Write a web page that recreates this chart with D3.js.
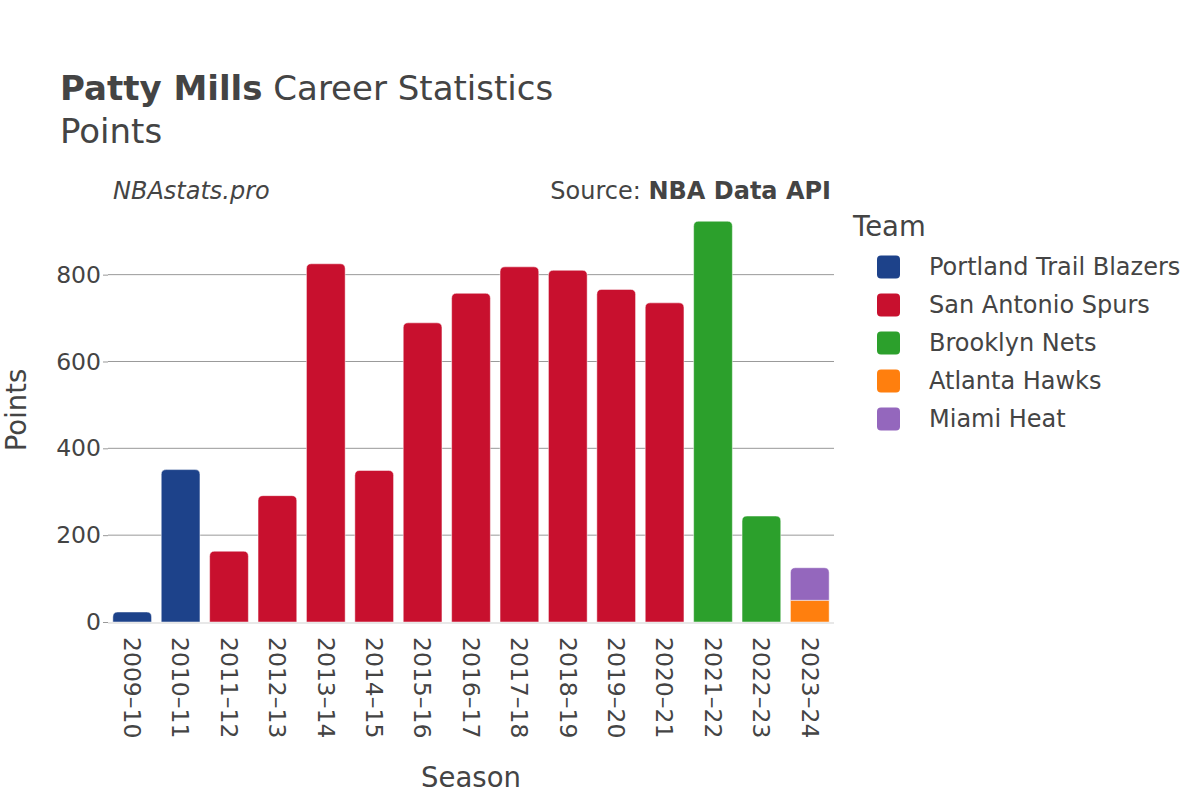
<!DOCTYPE html>
<html>
<head>
<meta charset="utf-8">
<script src="https://cdn.jsdelivr.net/npm/d3@7"></script>
<style>
  body { margin: 0; background: #fff; }
  text { font-family: 'DejaVu Sans', sans-serif; fill: #444; }
</style>
</head>
<body>
<div id="chart"></div>
<script>
var seasons = ['2009\u201310', '2010\u201311', '2011\u201312', '2012\u201313', '2013\u201314', '2014\u201315', '2015\u201316',
  '2016\u201317', '2017\u201318', '2018\u201319', '2019\u201320', '2020\u201321', '2021\u201322', '2022\u201323', '2023\u201324']
var teams = ['Portland Trail Blazers', 'San Antonio Spurs', 'Brooklyn Nets', 'Atlanta Hawks', 'Miami Heat']
var teamColors = ['#1d428a', '#c8102e', '#2ca02c', '#ff7f0e', '#9467bd']

var portland = [23, 351, 0, 0, 0, 0, 0, 0, 0, 0, 0, 0, 0, 0, 0]
var spurs = [0, 0, 163, 291, 825, 349, 689, 757, 818, 810, 766, 735, 0, 0, 0]
var nets = [0, 0, 0, 0, 0, 0, 0, 0, 0, 0, 0, 0, 923, 244, 0]
var hawks = [0, 0, 0, 0, 0, 0, 0, 0, 0, 0, 0, 0, 0, 0, 50]
var heat = [0, 0, 0, 0, 0, 0, 0, 0, 0, 0, 0, 0, 0, 0, 75]
var yTicks = [0, 200, 400, 600, 800]

var width = 1200
var height = 800
var margin = {left: 108, right: 366, top: 200, bottom: 178}
var chartWidth = width - margin.left - margin.right
var chartHeight = height - margin.top - margin.bottom

var series = [portland, spurs, nets, hawks, heat]
var rows = seasons.map(function (s, i) {
  var row = {season: s}
  teams.forEach(function (t, k) { row[t] = series[k][i] })
  return row
})
var stacked = d3.stack().keys(teams)(rows)
var colorMap = d3.scaleOrdinal().domain(teams).range(teamColors)

var maxValue = d3.max(rows, function (d) { return d3.sum(teams, function (t) { return d[t] }) })

var xScale = d3.scaleBand()
  .domain(seasons)
  .range([0, chartWidth])
  .paddingInner(0.2)
  .paddingOuter(0.1)
var yScale = d3.scaleLinear()
  .domain([0, maxValue * 1.053])
  .range([chartHeight, 0])

var svg = d3.select('#chart').append('svg')
  .attr('width', width)
  .attr('height', height)

// titles
var title = svg.append('text')
  .attr('x', 60)
  .attr('y', 100)
  .style('font-size', '34px')
title.append('tspan').style('font-weight', 'bold').text('Patty Mills')
title.append('tspan').text(' Career Statistics')
svg.append('text')
  .attr('x', 60)
  .attr('y', 143)
  .style('font-size', '34px')
  .text('Points')

svg.append('text')
  .attr('x', 113)
  .attr('y', 199)
  .style('font-size', '24px')
  .style('font-style', 'italic')
  .text('NBAstats.pro')
var source = svg.append('text')
  .attr('x', 831)
  .attr('y', 199)
  .attr('text-anchor', 'end')
  .style('font-size', '24px')
source.append('tspan').text('Source: ')
source.append('tspan').style('font-weight', 'bold').text('NBA Data API')

var chart = svg.append('g')
  .attr('transform', 'translate(' + margin.left + ',' + margin.top + ')')

// grid
chart.append('g')
  .selectAll('line')
  .data(yTicks.slice(1))
  .enter()
  .append('line')
  .attr('x1', 0)
  .attr('x2', chartWidth)
  .attr('y1', function (d) { return yScale(d) })
  .attr('y2', function (d) { return yScale(d) })
  .attr('stroke', '#999')
  .attr('stroke-width', 1)

var yAxis = d3.axisLeft(yScale).tickValues(yTicks).tickSize(5).tickPadding(2)
var yAxisElement = chart.append('g').call(yAxis)
yAxisElement.select('.domain').remove()
yAxisElement.selectAll('line').attr('stroke', '#999')
yAxisElement.selectAll('text').style('font-size', '23.5px').attr('fill', '#444')

function barPath (x, y0, y1, w, rounded) {
  var h = y0 - y1
  var r = rounded ? Math.min(5, h, w / 2) : 0
  return 'M' + x + ',' + y0 +
    'L' + x + ',' + (y1 + r) +
    'Q' + x + ',' + y1 + ' ' + (x + r) + ',' + y1 +
    'L' + (x + w - r) + ',' + y1 +
    'Q' + (x + w) + ',' + y1 + ' ' + (x + w) + ',' + (y1 + r) +
    'L' + (x + w) + ',' + y0 + 'Z'
}

function topKey (d) {
  var top = null
  teams.forEach(function (t) { if (d[t] > 0) top = t })
  return top
}

chart.append('g')
  .selectAll('g')
  .data(stacked)
  .enter()
  .append('g')
  .attr('fill', function (s) { return colorMap(s.key) })
  .each(function (s) {
    d3.select(this).selectAll('path')
      .data(s.filter(function (d) { return d[1] - d[0] > 0 }))
      .enter()
      .append('path')
      .attr('d', function (d) {
        return barPath(xScale(d.data.season), yScale(d[0]), yScale(d[1]), xScale.bandwidth(), topKey(d.data) === s.key)
      })
      .attr('stroke', '#fff')
      .attr('stroke-opacity', 0.6)
      .attr('stroke-width', 0.8)
  })

// zero line
chart.append('line')
  .attr('x1', 0)
  .attr('x2', chartWidth)
  .attr('y1', yScale(0) + 1)
  .attr('y2', yScale(0) + 1)
  .attr('stroke', '#e8e8e8')
  .attr('stroke-width', 2)

// x axis labels
chart.append('g')
  .selectAll('text')
  .data(seasons)
  .enter()
  .append('text')
  .attr('transform', function (d) {
    return 'translate(' + (xScale(d) + xScale.bandwidth() / 2) + ',' + (chartHeight + 15) + ') rotate(90)'
  })
  .attr('dy', '0.35em')
  .style('font-size', '23.5px')
  .text(function (d) { return d })

// axis titles
svg.append('text')
  .attr('x', margin.left + chartWidth / 2)
  .attr('y', 787)
  .attr('text-anchor', 'middle')
  .style('font-size', '27.5px')
  .text('Season')
svg.append('text')
  .attr('transform', 'translate(26,410) rotate(-90)')
  .attr('text-anchor', 'middle')
  .style('font-size', '27.5px')
  .text('Points')

// legend
var legend = svg.append('g').attr('transform', 'translate(853,0)')
legend.append('text')
  .attr('x', 0)
  .attr('y', 236)
  .style('font-size', '27.5px')
  .text('Team')
var items = legend.selectAll('.item')
  .data(teams)
  .enter()
  .append('g')
  .attr('class', 'item')
  .attr('transform', function (d, i) { return 'translate(0,' + (267 + i * 38) + ')' })
items.append('rect')
  .attr('x', 24)
  .attr('y', -11.5)
  .attr('width', 23)
  .attr('height', 23)
  .attr('rx', 4)
  .attr('fill', function (d) { return colorMap(d) })
items.append('text')
  .attr('x', 76)
  .attr('dy', '0.35em')
  .style('font-size', '24px')
  .text(function (d) { return d })
</script>
</body>
</html>
